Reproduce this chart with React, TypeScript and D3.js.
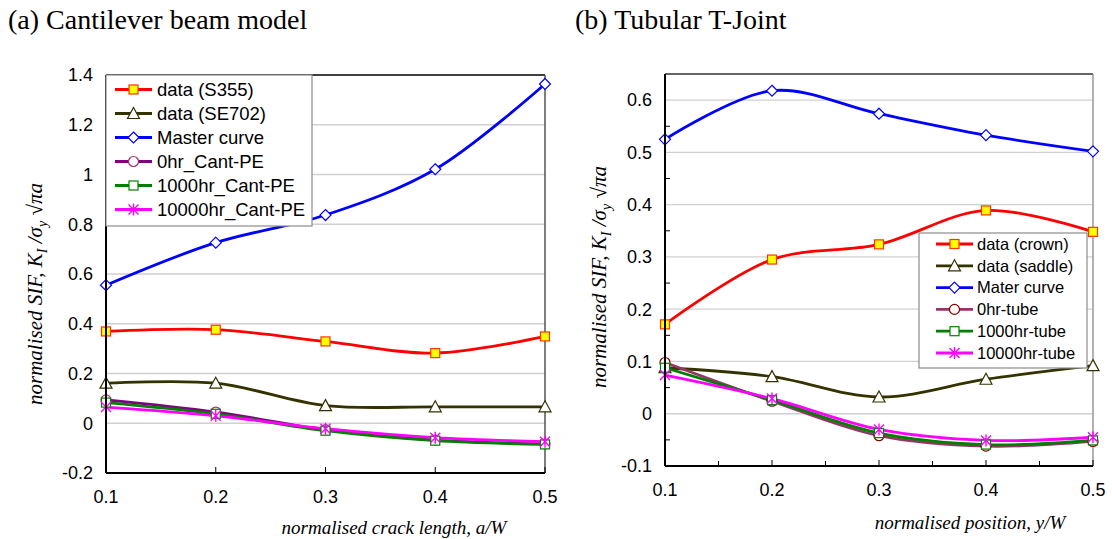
import React from "react";
import * as d3 from "d3";

// ---------- data ----------
const xPositions = [0.1, 0.2, 0.3, 0.4, 0.5];

// (a) Cantilever beam model
const cantS355 = [0.369, 0.376, 0.329, 0.282, 0.349];
const cantSE702 = [0.161, 0.161, 0.071, 0.066, 0.066];
const cantMaster = [0.555, 0.726, 0.837, 1.021, 1.364];
const cant0hr = [0.094, 0.045, -0.026, -0.068, -0.083];
const cant1000hr = [0.083, 0.038, -0.03, -0.07, -0.085];
const cant10000hr = [0.065, 0.03, -0.022, -0.058, -0.074];
const cantNames = ["data (S355)", "data (SE702)", "Master curve", "0hr_Cant-PE", "1000hr_Cant-PE", "10000hr_Cant-PE"];
const cantYTicks = [-0.2, 0, 0.2, 0.4, 0.6, 0.8, 1, 1.2, 1.4];

// (b) Tubular T-Joint
const tubeCrown = [0.171, 0.295, 0.324, 0.389, 0.348];
const tubeSaddle = [0.088, 0.071, 0.032, 0.066, 0.092];
const tubeMaster = [0.525, 0.618, 0.574, 0.533, 0.502];
const tube0hr = [0.098, 0.024, -0.042, -0.062, -0.053];
const tube1000hr = [0.088, 0.026, -0.037, -0.059, -0.051];
const tube10000hr = [0.074, 0.029, -0.03, -0.051, -0.045];
const tubeNames = ["data (crown)", "data (saddle)", "Mater curve", "0hr-tube", "1000hr-tube", "10000hr-tube"];
const tubeYTicks = [-0.1, 0, 0.1, 0.2, 0.3, 0.4, 0.5, 0.6];

const xTicks = [0.1, 0.2, 0.3, 0.4, 0.5];

// ---------- styles ----------
type Marker = "square" | "triangle" | "diamond" | "circle" | "asterisk";
interface Style { line: string; marker: Marker; fill: string; stroke: string; }

const cantStyles: Style[] = [
  { line: "#ff0000", marker: "square", fill: "#ffff00", stroke: "#ff3300" },
  { line: "#333300", marker: "triangle", fill: "#ffffff", stroke: "#333300" },
  { line: "#0000ff", marker: "diamond", fill: "#ffffff", stroke: "#0000ff" },
  { line: "#800080", marker: "circle", fill: "#ffffff", stroke: "#993366" },
  { line: "#008000", marker: "square", fill: "#ffffff", stroke: "#008000" },
  { line: "#ff00ff", marker: "asterisk", fill: "none", stroke: "#ff00ff" },
];
const tubeStyles: Style[] = [
  { line: "#ff0000", marker: "square", fill: "#ffff00", stroke: "#ff3300" },
  { line: "#333300", marker: "triangle", fill: "#ffffff", stroke: "#333300" },
  { line: "#0000ff", marker: "diamond", fill: "#ffffff", stroke: "#0000ff" },
  { line: "#993366", marker: "circle", fill: "#ffffff", stroke: "#800000" },
  { line: "#008000", marker: "square", fill: "#ffffff", stroke: "#008000" },
  { line: "#ff00ff", marker: "asterisk", fill: "none", stroke: "#ff00ff" },
];

const SANS = "Arial, 'Liberation Sans', sans-serif";
const SERIF = "'Times New Roman', 'Liberation Serif', serif";

function MarkerShape({ x, y, s }: { x: number; y: number; s: Style }) {
  const sw = 1.2;
  switch (s.marker) {
    case "square":
      return <rect x={x - 4.5} y={y - 4.5} width={9} height={9} fill={s.fill} stroke={s.stroke} strokeWidth={sw} />;
    case "triangle":
      return <path d={`M${x},${y - 6}L${x + 6},${y + 5}L${x - 6},${y + 5}Z`} fill={s.fill} stroke={s.stroke} strokeWidth={sw} />;
    case "diamond":
      return <path d={`M${x},${y - 5.5}L${x + 5.5},${y}L${x},${y + 5.5}L${x - 5.5},${y}Z`} fill={s.fill} stroke={s.stroke} strokeWidth={sw} />;
    case "circle":
      return <circle cx={x} cy={y} r={5} fill={s.fill} stroke={s.stroke} strokeWidth={sw} />;
    case "asterisk":
      return (
        <path
          d={`M${x},${y - 6}L${x},${y + 6}M${x - 5},${y - 5}L${x + 5},${y + 5}M${x - 5},${y + 5}L${x + 5},${y - 5}`}
          stroke={s.stroke}
          strokeWidth={1.4}
          fill="none"
        />
      );
  }
  return null;
}

interface PanelProps {
  x0: number; x1: number; yTop: number; yBot: number;
  yDomain: [number, number];
  yTicks: number[];
  gridTicks: number[];
  minorY?: number[];
  minorX?: number[];
  series: number[][];
  styles: Style[];
  names: string[];
  yLabelRight: number;
  xLabelBaseline: number;
  legend: { x: number; y: number; w: number; h: number; first: number; step: number; lx0: number; lx1: number; tx: number; fs: number };
  xTitle: string; xTitleX: number; xTitleY: number;
  yTitleX: number; yTitleY: number;
  rightBorder: string;
  topBorder: string;
}

function Panel(p: PanelProps) {
  const x = d3.scaleLinear().domain([0.1, 0.5]).range([p.x0, p.x1]);
  const y = d3.scaleLinear().domain(p.yDomain).range([p.yBot, p.yTop]);
  const line = d3
    .line<number>()
    .x((_, i) => x(xPositions[i]))
    .y((d) => y(d))
    .curve(d3.curveCatmullRom.alpha(0.5));
  const fmt = (v: number) => (Math.abs(v) < 1e-9 ? "0" : String(+v.toFixed(2)));
  const L = p.legend;
  return (
    <g>
      {/* grid */}
      {p.gridTicks.map((t) => (
        <line key={"g" + t} x1={p.x0} x2={p.x1} y1={y(t)} y2={y(t)} stroke="#d0d0d0" strokeWidth={1.3} />
      ))}
      {/* frame */}
      <line x1={p.x0} x2={p.x1} y1={p.yTop} y2={p.yTop} stroke={p.topBorder} strokeWidth={1.5} />
      <line x1={p.x1} x2={p.x1} y1={p.yTop} y2={p.yBot} stroke={p.rightBorder} strokeWidth={1.5} />
      {/* minor ticks */}
      {(p.minorY || []).map((t) => (
        <line key={"my" + t} x1={p.x0} x2={p.x0 + 5} y1={y(t)} y2={y(t)} stroke="#000" strokeWidth={1} />
      ))}
      {(p.minorX || []).map((t) => (
        <line key={"mx" + t} x1={x(t)} x2={x(t)} y1={p.yBot} y2={p.yBot - 5} stroke="#000" strokeWidth={1} />
      ))}
      {xTicks.map((t) => (
        <line key={"xt" + t} x1={x(t)} x2={x(t)} y1={p.yBot} y2={p.yBot - 6} stroke="#000" strokeWidth={1} />
      ))}
      {/* series lines */}
      {p.series.map((s, i) => (
        <path key={"l" + i} d={line(s) || ""} fill="none" stroke={p.styles[i].line} strokeWidth={2.8} />
      ))}
      {/* markers */}
      {p.series.map((s, i) => (
        <g key={"m" + i}>
          {s.map((v, j) => (
            <MarkerShape key={j} x={x(xPositions[j])} y={y(v)} s={p.styles[i]} />
          ))}
        </g>
      ))}
      {/* axes */}
      <line x1={p.x0} x2={p.x0} y1={p.yTop} y2={p.yBot} stroke="#000" strokeWidth={2} />
      <line x1={p.x0} x2={p.x1} y1={p.yBot} y2={p.yBot} stroke="#000" strokeWidth={2} />
      {/* y tick labels */}
      {p.yTicks.map((t) => (
        <text key={"yl" + t} x={p.yLabelRight} y={y(t)} dy="0.35em" textAnchor="end" fontFamily={SANS} fontSize={18} fill="#000">
          {fmt(t)}
        </text>
      ))}
      {/* x tick labels */}
      {xTicks.map((t) => (
        <text key={"xl" + t} x={x(t)} y={p.xLabelBaseline} textAnchor="middle" fontFamily={SANS} fontSize={18} fill="#000">
          {fmt(t)}
        </text>
      ))}
      {/* legend */}
      <rect x={L.x} y={L.y} width={L.w} height={L.h} fill="#fff" stroke="#8c8c8c" strokeWidth={1.2} />
      {p.names.map((n, i) => {
        const cy = L.first + i * L.step;
        const mx = (L.lx0 + L.lx1) / 2;
        return (
          <g key={"lg" + i}>
            <line x1={L.lx0} x2={L.lx1} y1={cy} y2={cy} stroke={p.styles[i].line} strokeWidth={2.8} />
            <MarkerShape x={mx} y={cy} s={p.styles[i]} />
            <text x={L.tx} y={cy} dy="0.35em" fontFamily={SANS} fontSize={L.fs} fill="#000">
              {n}
            </text>
          </g>
        );
      })}
      {/* axis titles */}
      <text x={p.xTitleX} y={p.xTitleY} textAnchor="middle" fontFamily={SERIF} fontStyle="italic" fontSize={19} fill="#000">
        {p.xTitle}
      </text>
      <text
        transform={`translate(${p.yTitleX},${p.yTitleY}) rotate(-90)`}
        textAnchor="middle"
        fontFamily={SERIF}
        fontStyle="italic"
        fontSize={21}
        fill="#000"
        dy="0.35em"
      >
        normalised SIF, K
        <tspan fontSize={14} dy={5}>I</tspan>
        <tspan dy={-5}> /σ</tspan>
        <tspan fontSize={14} dy={5}>y</tspan>
        <tspan dy={-5}>{"  \u221Aπa"}</tspan>
      </text>
    </g>
  );
}

export default function App() {
  return (
    <svg width={1112} height={539} style={{ position: "absolute", left: 0, top: 0, background: "#fff" }}>
      <rect x={0} y={0} width={1112} height={539} fill="#fff" />
      <text x={8} y={29} fontFamily={SERIF} fontSize={28} fill="#000">(a) Cantilever beam model</text>
      <text x={575} y={29} fontFamily={SERIF} fontSize={28} fill="#000">(b) Tubular T-Joint</text>
      <Panel
        x0={106}
        x1={545}
        yTop={75}
        yBot={473}
        yDomain={[-0.2, 1.4]}
        yTicks={cantYTicks}
        gridTicks={[0, 0.2, 0.4, 0.6, 0.8, 1, 1.2]}
        series={[cantS355, cantSE702, cantMaster, cant0hr, cant1000hr, cant10000hr]}
        styles={cantStyles}
        names={cantNames}
        yLabelRight={93}
        xLabelBaseline={503}
        legend={{ x: 106, y: 75, w: 206, h: 151, first: 89.5, step: 24, lx0: 115, lx1: 152, tx: 157, fs: 18.5 }}
        xTitle="normalised crack length, a/W"
        xTitleX={394}
        xTitleY={534}
        yTitleX={35}
        yTitleY={294}
        rightBorder="#555"
        topBorder="#000"
      />
      <Panel
        x0={665}
        x1={1093}
        yTop={74}
        yBot={466}
        yDomain={[-0.1, 0.65]}
        yTicks={tubeYTicks}
        gridTicks={[0, 0.1, 0.2, 0.3, 0.4, 0.5, 0.6]}
        minorY={[-0.05, 0.05, 0.15, 0.25, 0.35, 0.45, 0.55]}
        minorX={[0.15, 0.25, 0.35, 0.45]}
        series={[tubeCrown, tubeSaddle, tubeMaster, tube0hr, tube1000hr, tube10000hr]}
        styles={tubeStyles}
        names={tubeNames}
        yLabelRight={652}
        xLabelBaseline={496}
        legend={{ x: 919, y: 233, w: 168, h: 135, first: 244, step: 21.8, lx0: 936, lx1: 973, tx: 977, fs: 16.5 }}
        xTitle="normalised position, y/W"
        xTitleX={970}
        xTitleY={529}
        yTitleX={599}
        yTitleY={277}
        rightBorder="#999"
        topBorder="#333"
      />
    </svg>
  );
}
